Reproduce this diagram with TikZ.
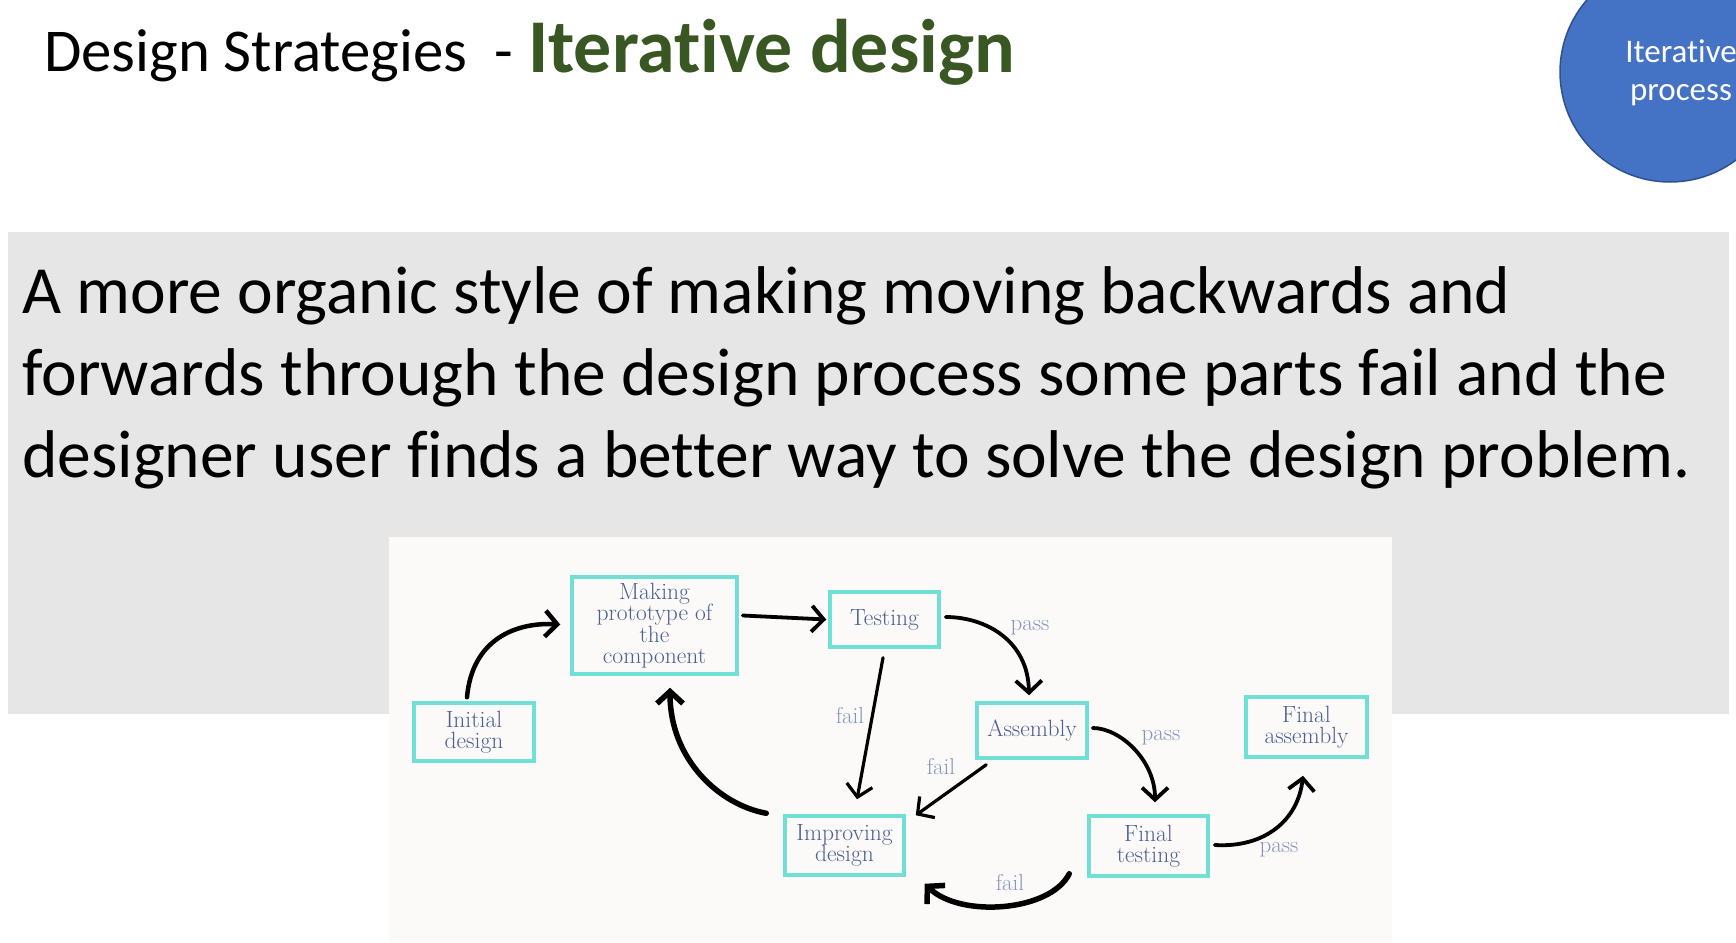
\documentclass[tikz,border=0pt]{standalone}
\usepackage{fontspec}
\newfontfamily\calfont[Ligatures=NoCommon]{Carlito}
\usetikzlibrary{arrows.meta}
\definecolor{boxteal}{RGB}{112,224,212}
\definecolor{imgbg}{RGB}{252,250,249}
\definecolor{slidegray}{RGB}{230,230,230}
\definecolor{nodetext}{RGB}{76,96,145}
\definecolor{lbltext}{RGB}{132,150,190}
\definecolor{titlegreen}{RGB}{56,87,35}
\definecolor{circblue}{RGB}{68,114,196}
\definecolor{circborder}{RGB}{47,82,143}
\tikzset{
  box/.style={draw=boxteal, line width=3.5pt, fill=imgbg, align=center, inner sep=1pt,
    font=\addfontfeatures{FakeBold=0.5}\fontsize{23.5}{21.5}\selectfont, text=nodetext},
  lbl/.style={text=lbltext, font=\addfontfeatures{FakeBold=0.3}\fontsize{23}{24}\selectfont, inner sep=0pt},
  arr/.style={line width=3.8pt, -{Straight Barb[length=12pt,width=26pt]}, line cap=round},
  thickarr/.style={arr, line width=5.5pt},
  body/.style={anchor=base west, inner sep=0pt, font=\calfont\fontsize{67.5}{82}\selectfont}
}
\begin{document}
\begin{tikzpicture}[x=1pt,y=-1pt]
\useasboundingbox (0,0) rectangle (1736,942);
\clip (0,0) rectangle (1736,942);
\fill[white] (0,0) rectangle (1736,942);
% title
\node[anchor=base west, inner sep=0pt, font=\calfont\fontsize{60.8}{72}\selectfont] (t1) at (44,71) {Design Strategies};
\node[anchor=base west, inner sep=0pt, font=\calfont\fontsize{60.8}{72}\selectfont] (t2) at (494,71) {-};
\node[anchor=base west, inner sep=0pt, text=titlegreen, font=\calfont\bfseries\fontsize{76}{80}\selectfont] (t3) at (528,72) {Iterative design};
% circle
\draw[fill=circblue, draw=circborder, line width=1.5pt] (1670,72) circle[radius=110pt];
\node[anchor=base, inner sep=0pt, text=white, font=\calfont\fontsize{33}{40}\selectfont] (c1) at (1681,63) {Iterative};
\node[anchor=base, inner sep=0pt, text=white, font=\calfont\fontsize{33}{40}\selectfont] (c2) at (1681,100) {process};
% gray panel
\fill[slidegray] (8,232) rectangle (1729,714);
\node[body] (l1) at (22,313) {A more organic style of making moving backwards and};
\node[body] (l2) at (22,395) {forwards through the design process some parts fail and the};
\node[body] (l3) at (22,477) {designer user finds a better way to solve the design problem.};
% image
\fill[imgbg] (389,537) rectangle (1392,942);
% nodes
\node[box, minimum width=165pt, minimum height=97pt] (make) at (654.5,625.5) {Making\\prototype of\\the\\component};
\node[box, minimum width=109pt, minimum height=55pt] (testing) at (884.5,619.5) {Testing};
\node[box, minimum width=120pt, minimum height=58pt] (init) at (474,732) {Initial\\design};
\node[box, minimum width=110pt, minimum height=55pt] (assembly) at (1032,730.5) {Assembly};
\node[box, minimum width=121pt, minimum height=60pt] (finalasm) at (1306.5,727) {Final\\assembly};
\node[box, minimum width=119pt, minimum height=59pt] (improving) at (844.5,845.5) {Improving\\design};
\node[box, minimum width=119pt, minimum height=60pt] (finaltest) at (1148.5,846) {Final\\testing};
% connectors
\draw[arr, line width=4.5pt] ([xshift=-7pt,yshift=4pt]init.north) .. controls (472,640) and (515,622) .. ([xshift=-10pt,yshift=1pt]make.west);
\draw[arr] ([xshift=4pt,yshift=10pt]make.east) -- ([xshift=-2pt]testing.west);
\draw[arr] ([xshift=5pt,yshift=2.5pt]testing.east) .. controls (985,617) and (1028,640) .. ([xshift=-3pt,yshift=6pt]assembly.north);
\draw[arr, line width=3.2pt] ([xshift=-1.5pt,yshift=-9pt]testing.south) -- ([xshift=12.5pt,yshift=15pt]improving.north);
\draw[arr, line width=3.2pt] ([xshift=11pt,yshift=-5pt]assembly.south west) -- ([xshift=10pt,yshift=-1pt]improving.north east);
\draw[arr] ([xshift=4pt,yshift=2.5pt]assembly.east) .. controls (1120,728) and (1155,760) .. ([xshift=6.5pt,yshift=12pt]finaltest.north);
\draw[arr] ([xshift=5pt,yshift=1pt]finaltest.east) .. controls (1265,848) and (1298,820) .. ([xshift=-3.5pt,yshift=-17pt]finalasm.south);
\draw[thickarr] ([xshift=-18pt,yshift=4pt]finaltest.south west) .. controls (1050,912) and (960,918) .. ([xshift=19pt,yshift=-7pt]improving.south east);
\draw[thickarr] ([xshift=-17pt,yshift=1pt]improving.north west) .. controls (720,805) and (670,760) .. ([xshift=15.5pt,yshift=-12pt]make.south);
% labels
\node[lbl] (p1) at (1030,628) {pass};
\node[lbl] (f1) at (850,716) {fail};
\node[lbl] (f2) at (941,767) {fail};
\node[lbl] (p2) at (1161,738) {pass};
\node[lbl] (p3) at (1279,850) {pass};
\node[lbl] (f3) at (1010,883) {fail};
\end{tikzpicture}
\end{document}
